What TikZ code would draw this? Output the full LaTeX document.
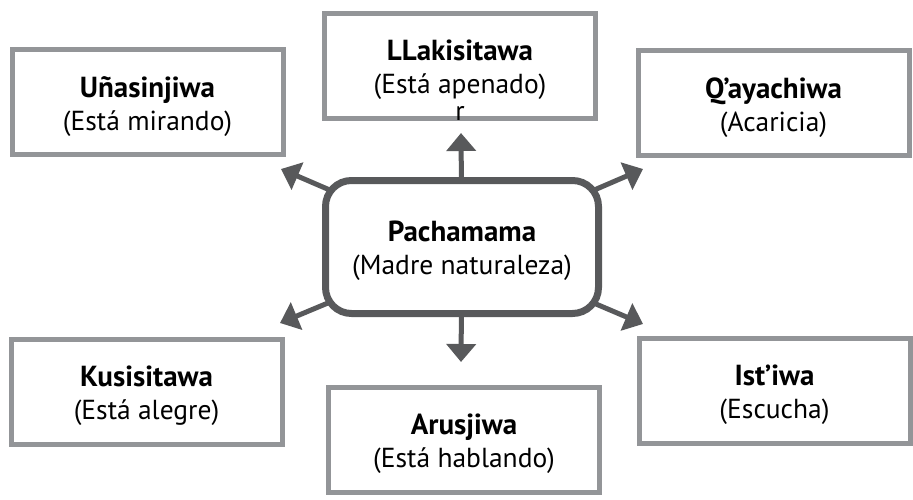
\documentclass[tikz,border=0pt]{standalone}
\usepackage{fontspec}
\setmainfont{PT Sans}
\usetikzlibrary{arrows.meta,backgrounds}
\definecolor{boxgray}{HTML}{939598}
\definecolor{darkgray}{HTML}{58595B}
\newcommand{\hdtxt}[1]{{\fontsize{29}{33}\selectfont\bfseries\rule{0pt}{29pt}#1}}
\newcommand{\subtxt}[1]{{\fontsize{27.5}{33}\selectfont #1}}
\begin{document}
\begin{tikzpicture}[x=1pt,y=-1pt,
  txt/.style={font=\fontsize{27.5}{33}\selectfont, align=center, text=black},
  box/.style={txt, draw=boxgray, line width=5pt, fill=white, minimum width=271pt, minimum height=105pt, inner sep=0pt},
  mainbox/.style={txt, draw=darkgray, line width=7pt, fill=white, rounded corners=26pt, minimum width=273pt, minimum height=133pt, inner sep=0pt},
  link/.style={draw=darkgray, line width=5pt, -{Triangle[length=18pt,width=29pt]}}
]
\useasboundingbox (0,0) rectangle (913,500);
\node[mainbox] (c) at (462,247) {\hdtxt{Pachamama}\\\subtxt{(Madre naturaleza)}};
\node[box] (t) at (460,66) {\hdtxt{LLakisitawa}\\\subtxt{(Está apenado)}};
\node[txt, inner sep=0pt] (r) at (460,113) {r};
\node[box] (tl) at (147.5,102.5) {\hdtxt{Uñasinjiwa}\\\subtxt{(Está mirando)}};
\node[box] (tr) at (773.5,103.5) {\hdtxt{Q’ayachiwa}\\\subtxt{(Acaricia)}};
\node[box] (bl) at (146.5,391.5) {\hdtxt{Kusisitawa}\\\subtxt{(Está alegre)}};
\node[box] (bc) at (464,440) {\hdtxt{Arusjiwa}\\\subtxt{(Está hablando)}};
\node[box] (br) at (774.5,391) {\hdtxt{Ist’iwa}\\\subtxt{(Escucha)}};
\coordinate (aT) at (461,133);
\coordinate (aB) at (461,362);
\coordinate (aTL) at (281,169);
\coordinate (aBL) at (280,323);
\coordinate (aTR) at (643,169);
\coordinate (aBR) at (643,324);
\begin{pgfonlayer}{background}
\draw[link] (c.center) -- (aT);
\draw[link] (c.center) -- (aB);
\draw[link] (c.center) -- (aTL);
\draw[link] (c.center) -- (aBL);
\draw[link] (c.center) -- (aTR);
\draw[link] (c.center) -- (aBR);
\end{pgfonlayer}
\end{tikzpicture}
\end{document}
